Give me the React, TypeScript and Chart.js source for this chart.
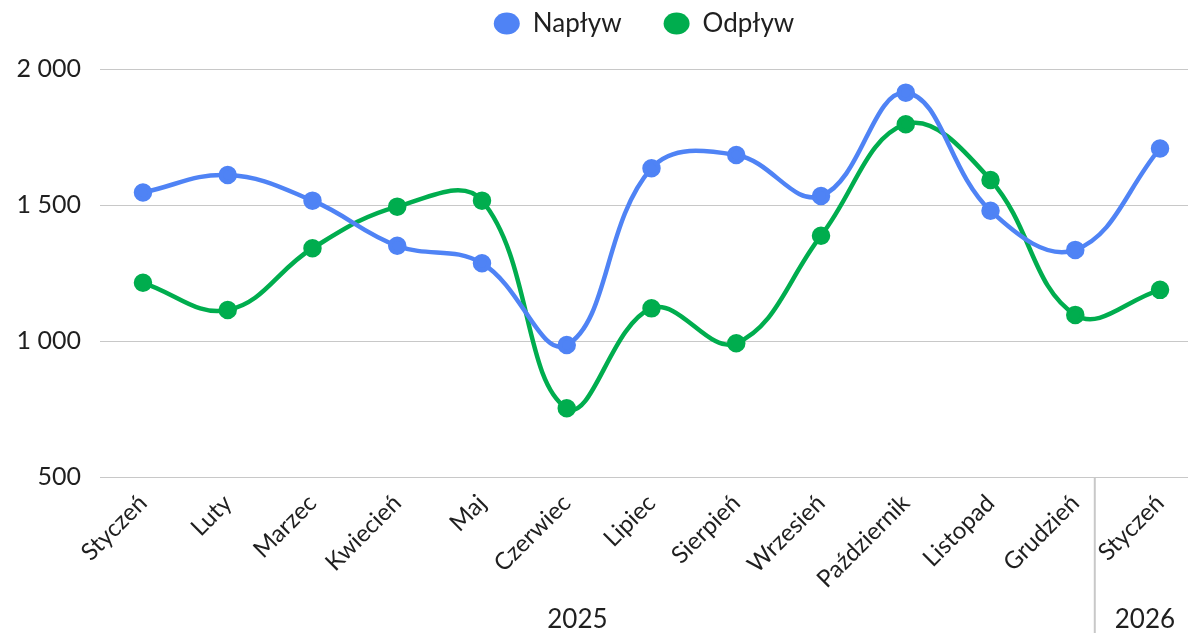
import { useEffect, useRef } from 'react';
import { Chart, registerables } from 'chart.js';
Chart.register(...registerables);

const months = ['Styczeń', 'Luty', 'Marzec', 'Kwiecień', 'Maj', 'Czerwiec', 'Lipiec', 'Sierpień', 'Wrzesień', 'Październik', 'Listopad', 'Grudzień', 'Styczeń'];
const inflow = [1546, 1610, 1516, 1350, 1286, 985, 1635, 1684, 1533, 1913, 1479, 1335, 1708];
const outflow = [1214, 1114, 1341, 1494, 1516, 753, 1120, 992, 1387, 1797, 1592, 1096, 1188];
const yearLabels = ['2025', '2026'];
const yTicks = [500, 1000, 1500, 2000];

const FONT = 'Lato, "Noto Sans", sans-serif';
const TEXT = '#1f1f1f';
const GRID = '#c8c8c8';
const BLUE = '#4f83f5';
const GREEN = '#00ad4e';

const fmt = (v: number) => String(v).replace(/\B(?=(\d{3})+(?!\d))/g, ' ');

const yearPlugin = {
  id: 'yearGroups',
  afterDraw(chart: any) {
    const { ctx, chartArea } = chart;
    const xs = chart.scales.x;
    const sep = xs.getPixelForValue(11.23);
    ctx.save();
    ctx.strokeStyle = GRID;
    ctx.lineWidth = 2;
    ctx.beginPath();
    ctx.moveTo(sep, chartArea.bottom);
    ctx.lineTo(sep, chart.height);
    ctx.stroke();
    ctx.fillStyle = TEXT;
    ctx.font = `26px ${FONT}`;
    ctx.textAlign = 'center';
    ctx.textBaseline = 'middle';
    const ranges = [
      [chartArea.left - 40, sep],
      [sep, chart.width + 6],
    ];
    yearLabels.forEach((lab, i) => {
      const [a, b] = ranges[i];
      ctx.fillText(lab, (a + b) / 2, 620);
    });
    ctx.restore();
  },
};

export default function App() {
  const ref = useRef<HTMLCanvasElement>(null);
  useEffect(() => {
    if (!ref.current) return;
    const chart = new Chart(ref.current, {
      type: 'line',
      data: {
        datasets: [
          {
            label: 'Napływ',
            data: inflow.map((v, i) => ({ x: i, y: v })),
            borderColor: BLUE,
            backgroundColor: BLUE,
            pointBackgroundColor: BLUE,
            pointBorderColor: BLUE,
            borderWidth: 4.5,
            pointRadius: 7,
            pointStyle: 'circle',
            tension: 0.4,
          },
          {
            label: 'Odpływ',
            data: outflow.map((v, i) => ({ x: i, y: v })),
            borderColor: GREEN,
            backgroundColor: GREEN,
            pointBackgroundColor: GREEN,
            pointBorderColor: GREEN,
            borderWidth: 4.5,
            pointRadius: 7,
            pointStyle: 'circle',
            tension: 0.4,
          },
        ],
      },
      options: {
        animation: false,
        responsive: true,
        maintainAspectRatio: false,
        layout: { autoPadding: false, padding: { top: -36, right: 1, left: 0, bottom: 0 } },
        plugins: {
          tooltip: { enabled: false },
          title: {
            display: true,
            text: '',
            position: 'top',
            fullSize: false,
            weight: 500,
            font: { size: 10, lineHeight: 1.2 },
            padding: { top: 5, bottom: 5.5 },
          },
          legend: {
            position: 'top',
            align: 'center',
            fullSize: false,
            weight: 1000,
            labels: {
              usePointStyle: true,
              pointStyleWidth: 26,
              boxHeight: 15.6,
              padding: 42,
              color: TEXT,
              font: { family: FONT, size: 26 },
              generateLabels: (c: any) =>
                (Chart.defaults.plugins.legend.labels.generateLabels as any)(c).map((l: any) => ({ ...l, lineWidth: 0 })),
            },
          },
        },
        scales: {
          x: {
            type: 'linear',
            min: -0.507,
            max: 12.33,
            grid: { display: false },
            border: { display: false },
            afterBuildTicks: (scale: any) => {
              scale.ticks = months.map((_, i) => ({ value: i }));
            },
            afterFit: (scale: any) => {
              scale.height = 156;
              scale.paddingLeft = 0;
              scale.paddingRight = 0;
            },
            ticks: {
              autoSkip: false,
              minRotation: 45,
              maxRotation: 45,
              padding: 4,
              color: TEXT,
              font: { family: FONT, size: 24 },
              callback: (v: any) => months[v as number] ?? '',
            },
          },
          y: {
            min: 500,
            max: 2000,
            afterBuildTicks: (scale: any) => {
              scale.ticks = yTicks.map((v) => ({ value: v }));
            },
            afterFit: (scale: any) => {
              scale.width = 100;
              scale.paddingTop = 69;
            },
            grid: { color: GRID, lineWidth: 1, drawTicks: false },
            border: { display: false },
            ticks: {
              padding: 19,
              color: TEXT,
              font: { family: FONT, size: 25 },
              callback: (v: any) => fmt(v as number),
            },
          },
        },
      },
      plugins: [yearPlugin],
    } as any);
    return () => chart.destroy();
  }, []);
  return (
    <div style={{ position: 'fixed', left: 0, top: 0, width: 1189, height: 633 }}>
      <canvas ref={ref} />
    </div>
  );
}
